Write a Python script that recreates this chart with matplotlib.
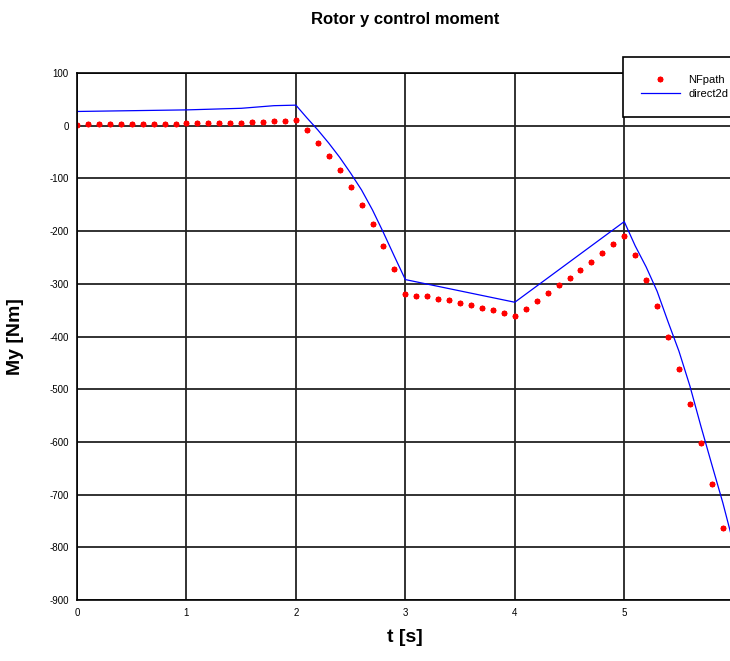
import numpy as np
import matplotlib.pyplot as plt

plt.rcParams['font.family'] = ['Liberation Sans', 'DejaVu Sans']
plt.rcParams['axes.unicode_minus'] = False

# NFpath samples, every 0.1 s
t_nf = np.round(np.arange(0, 6.0, 0.1), 1)
my_nf = [2, 3, 3, 3, 3, 3, 4, 4, 4, 4,
         5, 5, 5, 6, 6, 6, 7, 7, 8, 9,
         11, -8, -32, -58, -85, -117, -151, -187, -228, -272,
         -319, -323, -324, -328, -331, -336, -341, -345, -350, -356,
         -362, -347, -333, -318, -303, -289, -273, -259, -242, -225,
         -209, -246, -292, -343, -400, -462, -529, -602, -680, -764]

# direct2d line vertices
t_d2 = [0, 1, 1.5, 1.8, 2.0, 2.1, 2.2, 2.3, 2.4, 2.5, 2.6, 2.7, 2.8, 2.9, 3.0,
        4.0, 5.0, 5.1, 5.2, 5.3, 5.4, 5.5, 5.6, 5.7, 5.8, 5.9, 6.0]
my_d2 = [27, 30, 33, 38, 39, 15, -8, -33, -60, -90, -122, -160, -203, -248, -292,
         -335, -182, -228, -268, -314, -372, -428, -494, -570, -643, -715, -795]

fig = plt.figure(figsize=(7.3, 6.61), dpi=100)
ax = fig.add_axes([77/730, 61/661, 656.7/730, 527/661])

ax.plot(t_nf, my_nf, linestyle='none', marker=(8, 2, 0), markersize=4,
        markeredgewidth=1.3, color='red', label='NFpath')
ax.plot(t_d2, my_d2, color='blue', linewidth=0.9, label='direct2d')

ax.set_xlim(0, 6)
ax.set_ylim(-900, 100)
ax.set_xticks(range(0, 6))
ax.set_yticks(range(-900, 101, 100))
ax.grid(True, color='#222222', linewidth=1.3)
ax.tick_params(length=0, labelsize=7, pad=6)
for s in ax.spines.values():
    s.set_linewidth(1.2)
    s.set_color('black')

ax.set_title('Rotor y control moment', fontsize=12, fontweight='bold', pad=35)
ax.set_xlabel('t [s]', fontsize=14, fontweight='bold', labelpad=8)
ax.set_ylabel('My [Nm]', fontsize=14, fontweight='bold', labelpad=18)

leg = fig.legend(loc='upper left', bbox_to_anchor=(623/730, 604/661),
                 fontsize=8, frameon=True, fancybox=False, edgecolor='black',
                 borderpad=1.6, handlelength=3.5, labelspacing=0.4,
                 borderaxespad=0, framealpha=1)
leg.get_frame().set_linewidth(1.2)

fig.savefig('out.png', dpi=100)
